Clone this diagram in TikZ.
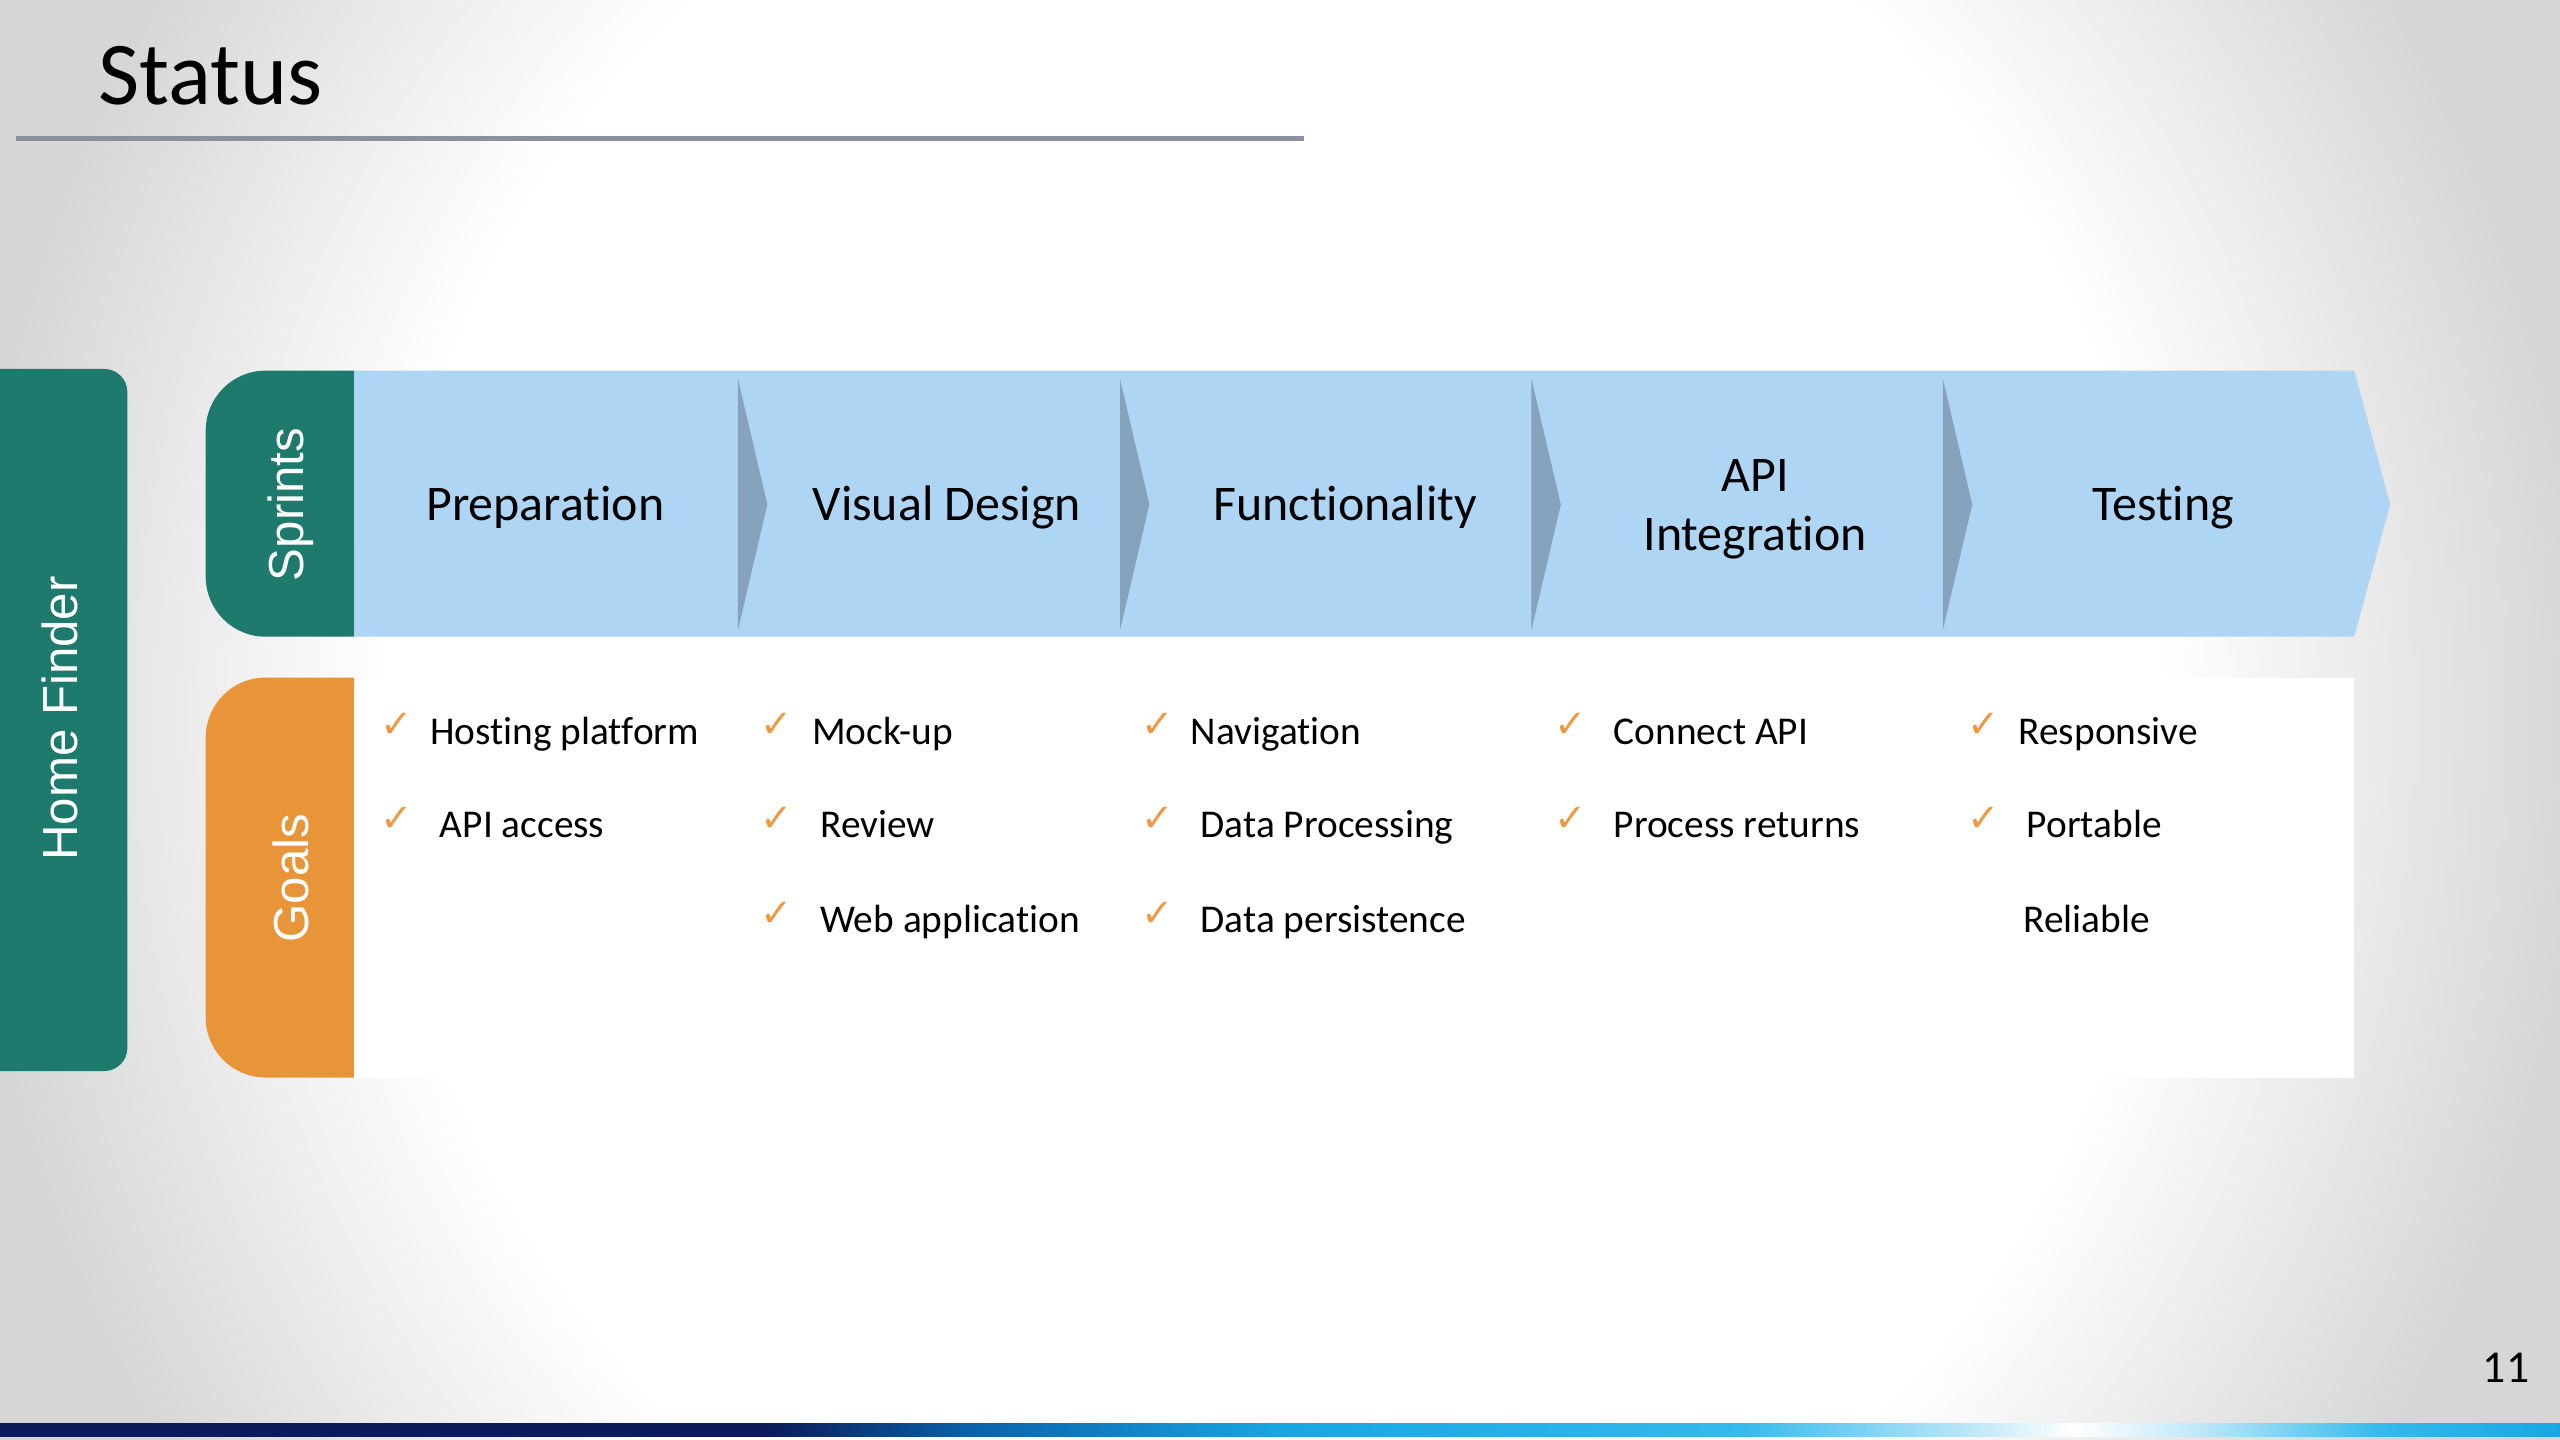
\documentclass[tikz,border=0pt]{standalone}
\usepackage{fontspec}
\setmainfont{Carlito}[Ligatures=NoCommon]
\newfontfamily\tabfont{Liberation Sans}
\newfontfamily\tickfont{DejaVu Sans}
\usetikzlibrary{positioning}
\definecolor{slidegray}{HTML}{D6D6D6}
\definecolor{tealtab}{HTML}{1D7A6C}
\definecolor{goalorange}{HTML}{E8953A}
\definecolor{sprintblue}{HTML}{AFD5F5}
\definecolor{chevshade}{HTML}{86A2BC}
\definecolor{ruleblue}{HTML}{8A909E}
\definecolor{tickorange}{HTML}{EE9A45}
\definecolor{barnavy}{HTML}{0B1C58}
\definecolor{barmid}{HTML}{0A62AA}
\definecolor{barblue}{HTML}{18A6E2}
\definecolor{barcyan}{HTML}{34BAEC}
\definecolor{barlight}{HTML}{BDE7F8}
\pgfdeclareradialshading{slidebg}{\pgfpoint{0bp}{0bp}}{color(0bp)=(white); color(17bp)=(white); color(25bp)=(slidegray); color(50bp)=(slidegray)}
\pgfdeclarehorizontalshading{footbar}{100bp}{color(0bp)=(barnavy); color(40bp)=(barnavy); color(44bp)=(barmid); color(50bp)=(barblue); color(59bp)=(barcyan); color(63.5bp)=(barlight); color(65.5bp)=(white); color(68bp)=(barlight); color(71.5bp)=(barcyan); color(75bp)=(barblue); color(100bp)=(barblue)}
\tikzset{
	sprintlbl/.style={font=\fontsize{14.2}{17}\selectfont, align=center, inner sep=0pt},
	goalitem/.style={font=\fontsize{11.2}{13}\selectfont, anchor=base west, inner sep=0pt},
	tickmark/.style={font=\tickfont\fontsize{11}{12}\selectfont, text=tickorange, inner sep=0pt},
	tablbl/.style={font=\tabfont\fontsize{14}{16}\selectfont, text=white, rotate=90, inner sep=0pt}
}

\begin{document}
\begin{tikzpicture}[x=0.0163265cm, y=-0.0163265cm]
	\useasboundingbox (0,0) rectangle (1568,882);
	% slide background
	\fill[slidegray] (0,0) rectangle (1568,882);
	\begin{scope}
		\clip (0,0) rectangle (1568,882);
		\shade[shading=slidebg] (780,440) ellipse [x radius=800, y radius=850];
	\end{scope}
	\shade[shading=footbar] (0,872) rectangle (1568,880);
	% title
	\node[font=\fontsize{25.5}{30}\selectfont, anchor=base west, inner sep=0pt] (title) at (60,64) {Status};
	\coordinate (rulel) at (10,85);
	\coordinate (ruler) at (799,85);
	\draw[ruleblue, line width=1.4pt] (rulel) -- (ruler);
	\node[font=\fontsize{13}{15}\selectfont, anchor=base, inner sep=0pt] (pagenum) at (1535,847) {11};
	% tabs
	\fill[tealtab, rounded corners=0.23cm] (0,226) -- (78,226) -- (78,656) -- (0,656);
	\fill[tealtab, rounded corners=0.6cm] (217,227) -- (126,227) -- (126,390) -- (217,390);
	\fill[goalorange, rounded corners=0.6cm] (217,415) -- (126,415) -- (126,660) -- (217,660);
	\node[tablbl] (home) at (37,440) {Home Finder};
	\node[tablbl] (sprints) at (178,309) {Sprints};
	\node[tablbl] (goals) at (178,538) {Goals};
	% sprint bar
	\fill[white] (217,415) rectangle (1442,660);
	\fill[sprintblue] (217,227) -- (1442,227) -- (1464,309) -- (1442,390) -- (217,390) -- cycle;
	\foreach \cx in {452,686,938,1190}
		\fill[chevshade] (\cx,232) -- (\cx+18,309) -- (\cx,386) -- cycle;
	\node[sprintlbl, anchor=base] (prep) at (334,319) {Preparation};
	\node[sprintlbl, anchor=base] (visual) at (580,319) {Visual Design};
	\node[sprintlbl, anchor=base] (func) at (824,319) {Functionality};
	\node[sprintlbl] (api) at (1075,312) {API\\Integration};
	\node[sprintlbl, anchor=base] (test) at (1325,319) {Testing};
	% goals
	\node[tickmark] (t11) at (243,444) {✓};
	\node[goalitem] (g11) at (263,456) {Hosting platform};
	\node[tickmark] (t12) at (243,502) {✓};
	\node[goalitem] (g12) at (269,513) {API access};
	\node[tickmark] (t21) at (476,444) {✓};
	\node[goalitem] (g21) at (497,456) {Mock-up};
	\node[tickmark] (t22) at (476,502) {✓};
	\node[goalitem] (g22) at (502,513) {Review};
	\node[tickmark] (t23) at (476,560) {✓};
	\node[goalitem] (g23) at (502,571) {Web application};
	\node[tickmark] (t31) at (709,444) {✓};
	\node[goalitem] (g31) at (729,456) {Navigation};
	\node[tickmark] (t32) at (709,502) {✓};
	\node[goalitem] (g32) at (735,513) {Data Processing};
	\node[tickmark] (t33) at (709,560) {✓};
	\node[goalitem] (g33) at (735,571) {Data persistence};
	\node[tickmark] (t41) at (962,444) {✓};
	\node[goalitem] (g41) at (988,456) {Connect API};
	\node[tickmark] (t42) at (962,502) {✓};
	\node[goalitem] (g42) at (988,513) {Process returns};
	\node[tickmark] (t51) at (1215,444) {✓};
	\node[goalitem] (g51) at (1236,456) {Responsive};
	\node[tickmark] (t52) at (1215,502) {✓};
	\node[goalitem] (g52) at (1241,513) {Portable};
	\node[goalitem] (g53) at (1239,571) {Reliable};
\end{tikzpicture}
\end{document}
